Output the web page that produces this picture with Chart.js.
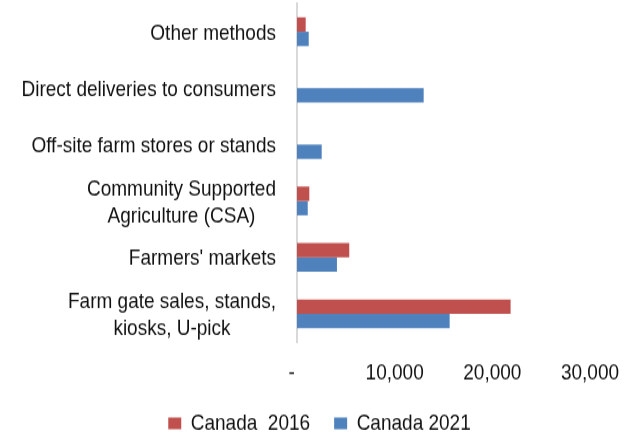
<!DOCTYPE html>
<html>
<head>
<meta charset="utf-8">
<script src="https://cdn.jsdelivr.net/npm/chart.js@4/dist/chart.umd.min.js"></script>
<style>
  html { overflow: hidden; }
  html, body { margin: 0; padding: 0; background: #fff; }
  body { width: 639px; height: 438px; }
  /* the reference text is vertically stretched, so draw at 374px and stretch to 438px */
  #wrap { width: 639px; height: 374px; transform: scaleY(1.1711); transform-origin: 0 0; }
</style>
</head>
<body>
<div id="wrap"><canvas id="myChart"></canvas></div>
<script>
const categories = [
  "Other methods",
  "Direct deliveries to consumers",
  "Off-site farm stores or stands",
  ["Community Supported", "Agriculture (CSA)"],
  "Farmers' markets",
  ["Farm gate sales, stands,", "kiosks, U-pick"]
];
const canada2016 = [890, null, null, 1260, 5350, 21870];
const canada2021 = [1200, 12970, 2530, 1100, 4090, 15630];
const xTicks = [0, 10000, 20000, 30000];

const FONT = "'Liberation Sans', Arial, sans-serif";
Chart.defaults.font.family = FONT;
Chart.defaults.font.size = 19;
Chart.defaults.color = "#111";

// category labels: right-aligned block, lines centred within the block
const categoryLabels = {
  id: "categoryLabels",
  afterDraw(chart) {
    const ctx = chart.ctx;
    const yScale = chart.scales.y;
    const rightX = 276;
    const lineGap = 23;
    ctx.save();
    ctx.font = "19px " + FONT;
    ctx.fillStyle = "#111";
    ctx.textAlign = "center";
    ctx.textBaseline = "middle";
    categories.forEach((label, i) => {
      const lines = Array.isArray(label) ? label : [label];
      const w = Math.max(...lines.map((l) => ctx.measureText(l).width));
      const cx = rightX - w / 2;
      const cy = yScale.getPixelForValue(i) + 1.5;
      const y0 = cy - ((lines.length - 1) * lineGap) / 2;
      lines.forEach((l, j) => ctx.fillText(l, cx, y0 + j * lineGap));
    });
    ctx.restore();
  }
};

const ctx = document.getElementById("myChart").getContext("2d");
const myChart = new Chart(ctx, {
  type: "bar",
  data: {
    labels: categories,
    datasets: [
      {
        label: "Canada  2016",
        data: canada2016,
        backgroundColor: "#C0504D",
        borderWidth: 0
      },
      {
        label: "Canada 2021",
        data: canada2021,
        backgroundColor: "#4F81BD",
        borderWidth: 0
      }
    ]
  },
  options: {
    indexAxis: "y",
    responsive: true,
    maintainAspectRatio: false,
    animation: false,
    categoryPercentage: 0.51,
    barPercentage: 1.0,
    layout: { padding: { top: 3, bottom: -7 } },
    scales: {
      y: {
        grid: { display: false },
        border: { display: true, color: "#d9d9d9", width: 2 },
        ticks: { display: false },
        afterFit: (scale) => { scale.width = 297; }
      },
      x: {
        min: 0,
        max: 30000,
        afterBuildTicks: (scale) => { scale.ticks = xTicks.map((v) => ({ value: v })); },
        afterFit: (scale) => { scale.paddingRight = 49; scale.height = 36; },
        grid: { display: false },
        border: { display: false },
        ticks: {
          padding: 7,
          maxRotation: 0,
          callback: (v) => (v === 0 ? "-  " : v.toLocaleString("en-US"))
        }
      }
    },
    plugins: {
      legend: {
        position: "bottom",
        labels: {
          boxWidth: 13,
          boxHeight: 10,
          padding: 24,
          font: { size: 19 }
        }
      },
      tooltip: { enabled: false }
    }
  },
  plugins: [categoryLabels]
});
</script>
</body>
</html>
